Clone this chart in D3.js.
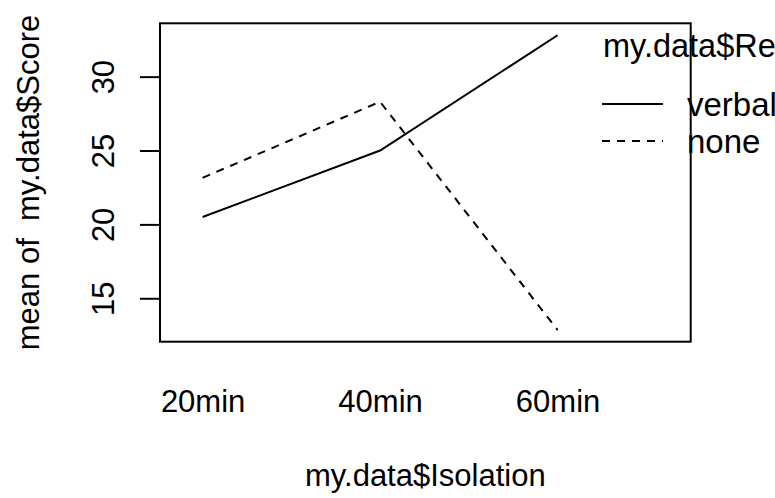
<!DOCTYPE html>
<html>
<head>
<meta charset="utf-8">
<script src="https://cdn.jsdelivr.net/npm/d3@7"></script>
<style>
  body { margin: 0; background: #fff; }
  svg { display: block; font-family: "Liberation Sans", Arial, sans-serif; }
</style>
</head>
<body>
<svg id="chart"></svg>
<script>
// factor levels on the x axis
var isolation = ["20min", "40min", "60min"];
// mean score per level, one array per reward group
var verbal = [20.5, 25.0, 32.8];
var none = [23.15, 28.3, 12.85];
var groups = ["verbal", "none"];
var yTicks = [15, 20, 25, 30];

var dd = {
    width: 775,
    height: 498,
    margin: { top: 23.3, bottom: 156.3, left: 160, right: 84.3 }
}

var svg = d3.select("#chart")
    .attr("width", dd.width)
    .attr("height", dd.height)

var xScale = d3.scaleLinear()
    .domain([0.76, 3.75])
    .range([dd.margin.left, dd.width - dd.margin.right])
var yScale = d3.scaleLinear()
    .domain([12.06, 33.61])
    .range([dd.height - dd.margin.bottom, dd.margin.top])

var fs = 31
var legendFs = 33

// y axis, R style long ticks, labels turned 90 degrees
var yAxisGen = d3.axisLeft(yScale).tickValues(yTicks).tickSize(20).tickSizeOuter(0)
var yAxis = svg.append("g")
    .attr("transform", "translate(" + dd.margin.left + ",0)")
    .call(yAxisGen)
yAxis.select(".domain").remove()
yAxis.selectAll("line").attr("stroke", "#000").attr("stroke-width", 2)
yAxis.selectAll("text")
    .attr("font-size", fs)
    .attr("fill", "#000")
    .attr("text-anchor", "middle")
    .attr("x", 0)
    .attr("y", 0)
    .attr("dy", "0.35em")
    .attr("transform", "translate(-57,0) rotate(-90)")

// x labels, no ticks (interaction.plot style)
var xAxisGen = d3.axisBottom(xScale)
    .tickValues([1, 2, 3])
    .tickFormat(function(d) { return isolation[d - 1] })
    .tickSize(0)
var xAxis = svg.append("g")
    .attr("transform", "translate(0," + (dd.height - dd.margin.bottom) + ")")
    .call(xAxisGen)
xAxis.select(".domain").remove()
xAxis.selectAll("text")
    .attr("font-size", fs)
    .attr("fill", "#000")
    .attr("dy", null)
    .attr("y", 70)

// plot box
svg.append("rect")
    .attr("x", dd.margin.left)
    .attr("y", dd.margin.top)
    .attr("width", dd.width - dd.margin.left - dd.margin.right)
    .attr("height", dd.height - dd.margin.top - dd.margin.bottom)
    .attr("fill", "none")
    .attr("stroke", "#000")
    .attr("stroke-width", 2)

var line = d3.line()
    .x(function(d, i) { return xScale(i + 1) })
    .y(function(d) { return yScale(d) })

var series = [verbal, none]
var dashes = [null, "8,7"]

svg.selectAll(".series")
    .data(series)
    .enter().append("path")
    .attr("class", "series")
    .attr("d", line)
    .attr("fill", "none")
    .attr("stroke", "#000")
    .attr("stroke-width", 2)
    .attr("stroke-dasharray", function(d, i) { return dashes[i] })

// axis titles
svg.append("text")
    .attr("x", (dd.margin.left + dd.width - dd.margin.right) / 2)
    .attr("y", 486)
    .attr("text-anchor", "middle")
    .attr("font-size", fs)
    .text("my.data$Isolation")

svg.append("text")
    .attr("transform", "translate(39," + ((dd.margin.top + dd.height - dd.margin.bottom) / 2) + ") rotate(-90)")
    .attr("text-anchor", "middle")
    .attr("font-size", fs)
    .style("white-space", "pre")
    .text("mean of  my.data$Score")

// legend (runs off the right edge, as in the original)
svg.append("text")
    .attr("x", 603)
    .attr("y", 57)
    .attr("font-size", 32.5)
    .text("my.data$Reward")

var legend = svg.append("g")
var rows = legend.selectAll("g")
    .data(groups)
    .enter().append("g")
    .attr("transform", function(d, i) { return "translate(0," + (104 + i * 37) + ")" })

rows.append("line")
    .attr("x1", 602).attr("x2", 663)
    .attr("stroke", "#000")
    .attr("stroke-width", 2)
    .attr("stroke-dasharray", function(d, i) { return dashes[i] })

rows.append("text")
    .attr("x", 687)
    .attr("y", 12)
    .attr("font-size", legendFs)
    .text(function(d) { return d })
</script>
</body>
</html>
